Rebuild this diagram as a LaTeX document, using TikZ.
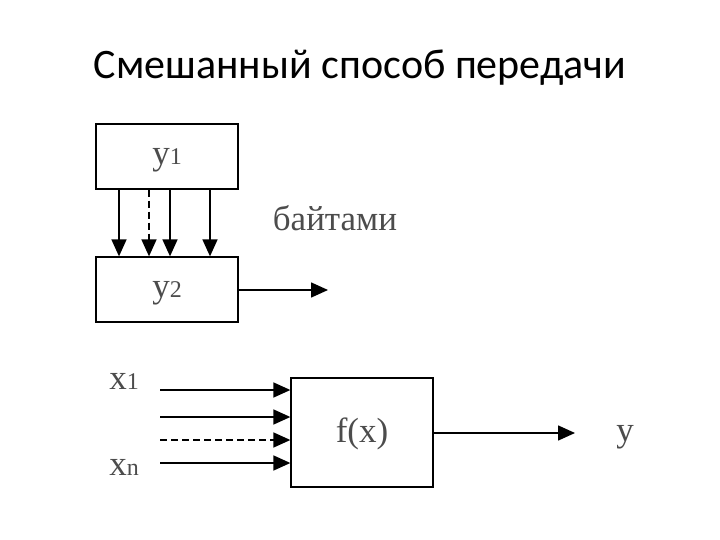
\documentclass[tikz,border=0pt]{standalone}
\usepackage{fontspec}
\setmainfont{Liberation Serif}
\newfontfamily\titlefont{Carlito}
\usetikzlibrary{arrows.meta}
\begin{document}
\begin{tikzpicture}[x=1pt,y=-1pt,
  blk/.style={draw,line width=1.3pt,minimum width=142pt,minimum height=65pt,inner sep=0pt},
  arr/.style={-{Triangle[length=17pt,width=15pt]},line width=1.6pt},
  dsh/.style={dash pattern=on 7pt off 4pt},
  lbl/.style={font=\fontsize{35}{38}\selectfont,text=black!70}]
\useasboundingbox (0,0) rectangle (720,540);
\node[font=\titlefont\fontsize{42}{45}\selectfont] (title) at (360,68) {Смешанный способ передачи};
\node[blk] (y1) at (167,156.5) {};
\node[lbl] (ly1) at (167,160) {y\fontsize{24}{26}\selectfont 1};
\node[blk] (y2) at (167,289.5) {};
\node[lbl] (ly2) at (167,293) {y\fontsize{24}{26}\selectfont 2};
\foreach \x/\s in {119/solid,149/dsh,170/solid,210/solid}
  \draw[arr,\s] (y1.south -| \x,0) -- (y2.north -| \x,0);
\coordinate (o2) at (328,290);
\draw[arr] (y2.east |- o2) -- (o2);
\node[lbl] (bt) at (335,218) {байтами};
\node[blk,minimum height=109pt] (f) at (362,432.5) {};
\node[lbl] (lf) at (362,434) {f(x)};
\foreach \y/\s/\n in {390/solid/a,417/solid/b,440/dsh/c,463/solid/d}{
  \coordinate (i\n) at (160,\y);
  \draw[arr,\s] (i\n) -- (f.west |- i\n);}
\node[lbl] (x1) at (124,381) {x\fontsize{24}{26}\selectfont 1};
\node[lbl] (xn) at (124,467) {x\fontsize{24}{26}\selectfont n};
\coordinate (out) at (575,433);
\draw[arr] (f.east |- out) -- (out);
\node[lbl] (yy) at (625,437) {y};
\end{tikzpicture}
\end{document}
